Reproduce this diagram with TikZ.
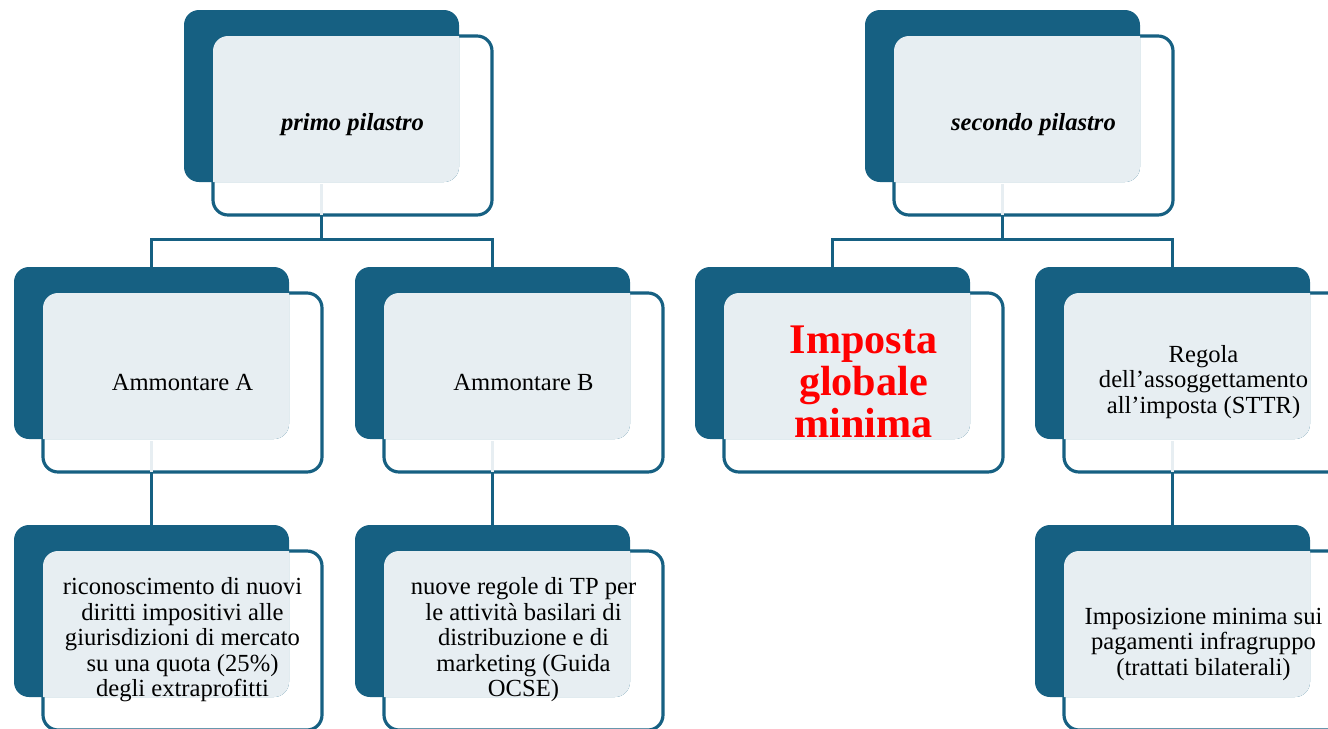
\documentclass[tikz,border=0pt]{standalone}
\usepackage{fontspec}
\setmainfont{Liberation Serif}
\usepackage{tikz}
\definecolor{scuro}{RGB}{22,96,130}
\definecolor{chiaro}{RGB}{231,238,242}
\tikzset{
    cornice/.style={draw=scuro,line width=1.8pt,fill=white,rounded corners=3mm},
    sfondo/.style={fill=scuro,rounded corners=3mm},
    velo/.style={fill=chiaro,rounded corners=3mm},
    testo/.style={align=center,font=\fontsize{14}{14.5}\selectfont},
    ramo/.style={draw=scuro,line width=1.7pt},
}
\newcommand{\pilastro}[5][]{
    \begin{scope}[shift={(#3,#4)}]
        \draw[cornice] (29,26) rectangle (308,205);
        \fill[sfondo] (0,0) rectangle (275,172);
        \begin{scope}
            \clip[rounded corners=3mm] (29,26) rectangle (308,205);
            \fill[velo] (0,0) rectangle (275,172);
        \end{scope}
        \node[testo,#1] (#2) at (168.5,115) {#5};
        \coordinate (#2-cima) at (137.5,0);
        \coordinate (#2-fondo) at (137.5,174);
        \coordinate (#2-base) at (137.5,205);
    \end{scope}
}

\begin{document}
\begin{tikzpicture}[x=0.2mm,y=-0.2mm]
    \useasboundingbox (0,0) rectangle (1328,728);
    % primo pilastro
    \pilastro[font=\fontsize{14}{14.5}\selectfont\bfseries\itshape]{primo}{184}{10}{primo pilastro}
    \pilastro{ammA}{14}{267}{Ammontare A}
    \pilastro{ammB}{355}{267}{Ammontare B}
    \pilastro{rico}{14}{525}{riconoscimento di nuovi\\diritti impositivi alle\\giurisdizioni di mercato\\su una quota (25\%)\\degli extraprofitti}
    \pilastro{tp}{355}{525}{nuove regole di TP per\\le attività basilari di\\distribuzione e di\\marketing (Guida\\OCSE)}
    % secondo pilastro
    \pilastro[font=\fontsize{14}{14.5}\selectfont\bfseries\itshape]{secondo}{865}{10}{secondo pilastro}
    \pilastro[font=\fontsize{24}{24}\selectfont\bfseries,text=red]{globale}{695}{267}{Imposta\\globale\\minima}
    \pilastro{sttr}{1035}{267}{Regola\\dell’assoggettamento\\all’imposta (STTR)}
    \pilastro[yshift=-0.8mm]{infra}{1035}{525}{Imposizione minima sui\\pagamenti infragruppo\\(trattati bilaterali)}

    \foreach \n in {primo,secondo,ammA,ammB,sttr}
        \draw[ramo,draw=chiaro] (\n-fondo) -- (\n-base);
    \draw[ramo] (primo-base) -- +(0,24) -| (ammA-cima);
    \draw[ramo] (primo-base) -- +(0,24) -| (ammB-cima);
    \draw[ramo] (secondo-base) -- +(0,24) -| (globale-cima);
    \draw[ramo] (secondo-base) -- +(0,24) -| (sttr-cima);
    \draw[ramo] (ammA-base) -- (rico-cima);
    \draw[ramo] (ammB-base) -- (tp-cima);
    \draw[ramo] (sttr-base) -- (infra-cima);
\end{tikzpicture}
\end{document}
